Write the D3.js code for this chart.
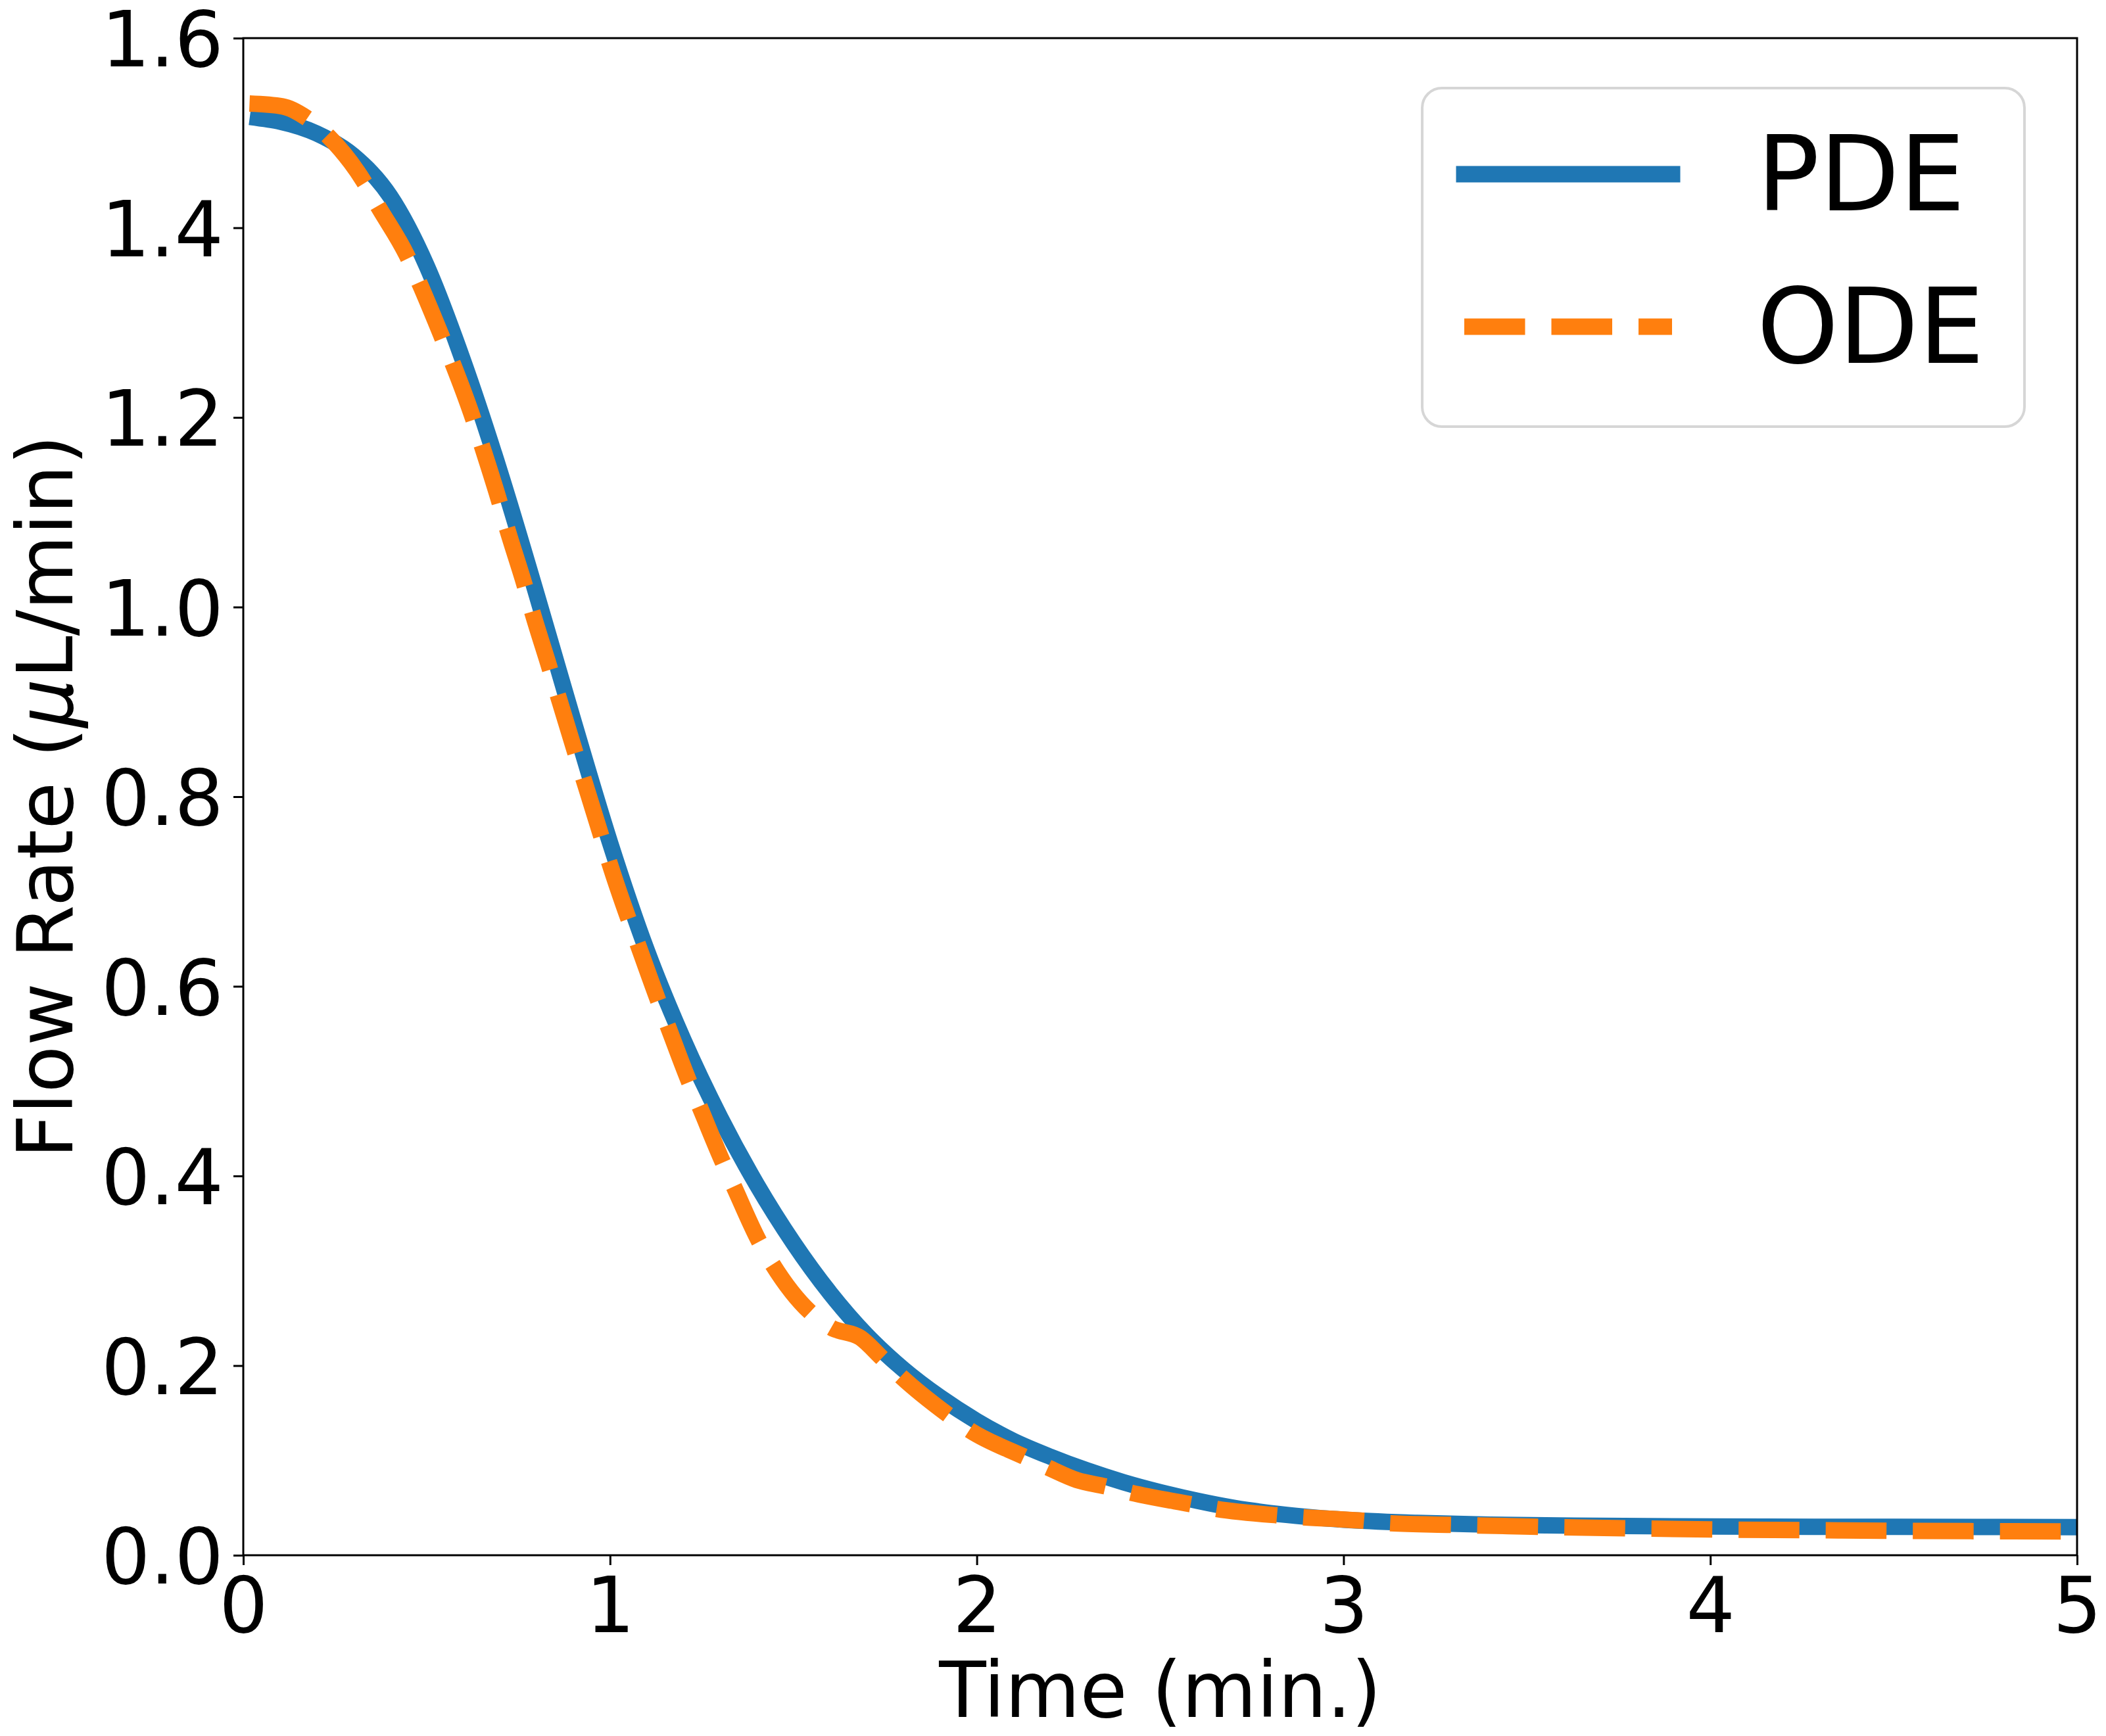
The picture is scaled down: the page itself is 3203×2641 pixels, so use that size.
<!DOCTYPE html>
<html>
<head>
<meta charset="utf-8">
<script src="https://cdn.jsdelivr.net/npm/d3@7"></script>
<style>
  html, body { margin: 0; padding: 0; background: #ffffff; }
  svg { display: block; }
  text { font-family: "DejaVu Sans", sans-serif; fill: #000; }
</style>
</head>
<body>
<svg id="chart" width="3203" height="2641"></svg>
<script>
// ---- data ----
const seriesNames = ["PDE", "ODE"];
const pdeTime = [0.04, 0.1, 0.2, 0.3, 0.4, 0.5, 0.6, 0.7, 0.8, 0.9, 1.0, 1.1, 1.2, 1.3, 1.4, 1.5, 1.6, 1.7, 1.8, 1.9, 2.0, 2.1, 2.2, 2.3, 2.4, 2.5, 2.6, 2.7, 2.8, 2.9, 3.0, 3.2, 3.4, 3.7, 4.0, 4.5, 5.0];
const pdeFlow = [1.5158, 1.512, 1.4995, 1.476, 1.4335, 1.360, 1.259, 1.142, 1.013, 0.880, 0.7515, 0.638, 0.5435, 0.462, 0.391, 0.3295, 0.2765, 0.232, 0.196, 0.1665, 0.1415, 0.1205, 0.104, 0.0895, 0.077, 0.0665, 0.0575, 0.0500, 0.0445, 0.0405, 0.0375, 0.0342, 0.0322, 0.0310, 0.0303, 0.0299, 0.0297];
const odeTime = [0.017, 0.107, 0.172, 0.2305, 0.3276, 0.3677, 0.4464, 0.4821, 0.5415, 0.5717, 0.6265, 0.651, 0.6979, 0.7198, 0.7667, 0.7894, 0.8351, 0.858, 0.9035, 0.927, 0.976, 0.997, 1.050, 1.075, 1.131, 1.157, 1.216, 1.244, 1.308, 1.3376, 1.4066, 1.4426, 1.5448, 1.6033, 1.683, 1.741, 1.793, 1.921, 1.9818, 2.129, 2.195, 2.2728, 2.3497, 2.422, 2.582, 2.654, 2.8185, 2.890, 3.056, 3.128, 3.293, 3.449, 3.71, 4.0, 4.24, 4.47, 4.71, 5.0];
const odeFlow = [1.531, 1.528, 1.516, 1.497, 1.4495, 1.4225, 1.3706, 1.340, 1.285, 1.2562, 1.1989, 1.1697, 1.1117, 1.0822, 1.0238, 0.993, 0.936, 0.9066, 0.8488, 0.8196, 0.7585, 0.732, 0.6715, 0.645, 0.5852, 0.5587, 0.499, 0.4733, 0.4141, 0.3889, 0.331, 0.3071, 0.2567, 0.2399, 0.2293, 0.2081, 0.1886, 0.1483, 0.1316, 0.104, 0.0923, 0.0793, 0.0727, 0.0658, 0.0539, 0.0488, 0.0421, 0.0401, 0.0363, 0.0337, 0.0321, 0.0307, 0.0288, 0.0272, 0.0265, 0.0259, 0.0254, 0.0252];
const xTicks = [0, 1, 2, 3, 4, 5];
const yTicks = [0.0, 0.2, 0.4, 0.6, 0.8, 1.0, 1.2, 1.4, 1.6];
const xLabel = "Time (min.)";
const yLabelParts = ["Flow Rate (", "μ", "L/min)"];

// ---- layout ----
const plot = { left: 370, right: 3159, top: 58, bottom: 2366 };
const colors = { PDE: "#1f77b4", ODE: "#ff7f0e" };
const lw = 25;
const tickFont = 117;
const legendFont = 158;

const svg = d3.select("#chart");
svg.append("rect").attr("width", 3203).attr("height", 2641).attr("fill", "#fff");

const x = d3.scaleLinear().domain([0, 5]).range([plot.left, plot.right]);
const y = d3.scaleLinear().domain([0, 1.6]).range([plot.bottom, plot.top]);

svg.append("defs").append("clipPath").attr("id", "clip")
  .append("rect")
  .attr("x", plot.left).attr("y", plot.top)
  .attr("width", plot.right - plot.left).attr("height", plot.bottom - plot.top);

const line = d3.line().x(d => x(d[0])).y(d => y(d[1])).curve(d3.curveMonotoneX);

const pdeData = pdeTime.map((t, i) => [t, pdeFlow[i]]);
const odeData = odeTime.map((t, i) => [t, odeFlow[i]]);

const gLines = svg.append("g").attr("clip-path", "url(#clip)");
gLines.append("path").datum(pdeData)
  .attr("d", line)
  .attr("fill", "none").attr("stroke", colors.PDE)
  .attr("stroke-width", lw).attr("stroke-linecap", "square").attr("stroke-linejoin", "round");
gLines.append("path").datum(odeData)
  .attr("d", line)
  .attr("fill", "none").attr("stroke", colors.ODE)
  .attr("stroke-width", lw).attr("stroke-linecap", "butt").attr("stroke-linejoin", "round")
  .attr("stroke-dasharray", `${3.7 * lw} ${1.6 * lw}`);

// ---- axes ----
const xAxis = d3.axisBottom(x).tickValues(xTicks).tickFormat(d3.format("d")).tickSizeInner(15).tickSizeOuter(0).tickPadding(15);
const yAxis = d3.axisLeft(y).tickValues(yTicks).tickFormat(d3.format(".1f")).tickSizeInner(15).tickSizeOuter(0).tickPadding(15);

const gx = svg.append("g").attr("transform", `translate(0,${plot.bottom})`).call(xAxis);
const gy = svg.append("g").attr("transform", `translate(${plot.left},0)`).call(yAxis);
[gx, gy].forEach(g => {
  g.select(".domain").remove();
  g.selectAll(".tick line").attr("stroke", "#000").attr("stroke-width", 3);
  g.selectAll(".tick text").attr("font-size", tickFont).attr("font-family", "DejaVu Sans").attr("fill", "#000");
});
gx.selectAll(".tick text").attr("dy", null).attr("y", 117);
gy.selectAll(".tick text").attr("dy", null).attr("y", 0.3645 * tickFont).attr("x", -30);

// spines
svg.append("rect")
  .attr("x", plot.left).attr("y", plot.top)
  .attr("width", plot.right - plot.left).attr("height", plot.bottom - plot.top)
  .attr("fill", "none").attr("stroke", "#000").attr("stroke-width", 3);

// axis labels
svg.append("text")
  .attr("x", (plot.left + plot.right) / 2).attr("y", 2612)
  .attr("text-anchor", "middle").attr("font-size", tickFont)
  .text(xLabel);

const yl = svg.append("text")
  .attr("transform", `translate(110,${(plot.top + plot.bottom) / 2}) rotate(-90)`)
  .attr("text-anchor", "middle").attr("font-size", tickFont);
yl.append("tspan").text(yLabelParts[0]);
yl.append("tspan").attr("font-style", "italic").text(yLabelParts[1]);
yl.append("tspan").text(yLabelParts[2]);

// ---- legend ----
const lg = svg.append("g");
lg.append("rect")
  .attr("x", 2163).attr("y", 134).attr("width", 3079 - 2163).attr("height", 649 - 134)
  .attr("rx", 30).attr("ry", 30)
  .attr("fill", "#fff").attr("fill-opacity", 0.8)
  .attr("stroke", "#d6d6d6").attr("stroke-width", 4);

const legendRows = [
  { name: seriesNames[0], y: 265, dash: null, cap: "square" },
  { name: seriesNames[1], y: 497, dash: `${3.7 * lw} ${1.6 * lw}`, cap: "butt" }
];
legendRows.forEach(r => {
  const l = lg.append("line")
    .attr("x1", 2227).attr("x2", 2543).attr("y1", r.y).attr("y2", r.y)
    .attr("stroke", colors[r.name]).attr("stroke-width", lw).attr("stroke-linecap", r.cap);
  if (r.dash) l.attr("stroke-dasharray", r.dash);
  lg.append("text")
    .attr("x", 2672).attr("y", r.y + 55)
    .attr("font-size", legendFont)
    .text(r.name);
});
</script>
</body>
</html>
